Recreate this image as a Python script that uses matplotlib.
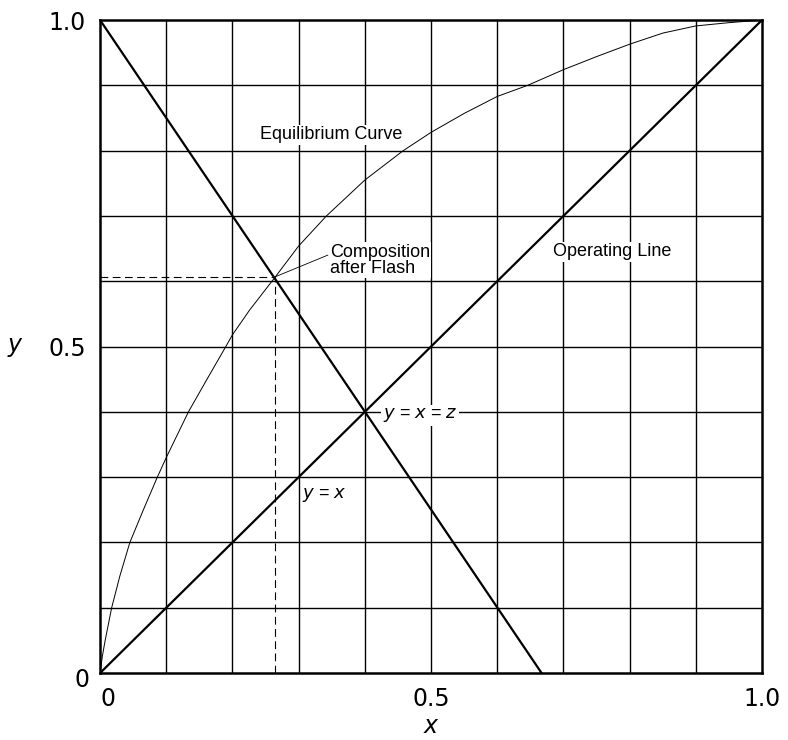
import matplotlib.pyplot as plt
import matplotlib.transforms as mtrans

# Equilibrium curve
eq_x = [0, 0.0035, 0.0075, 0.0175, 0.03, 0.045, 0.065, 0.0865, 0.1, 0.1335,
        0.161, 0.19, 0.2, 0.226, 0.265, 0.3, 0.342, 0.4, 0.458, 0.5, 0.55, 0.6,
        0.646, 0.7, 0.75, 0.8, 0.85, 0.9, 0.95, 1.0]
eq_y = [0, 0.026, 0.049, 0.1, 0.149, 0.2, 0.249, 0.3, 0.33, 0.4,
        0.449, 0.5, 0.518, 0.556, 0.607, 0.654, 0.7, 0.755, 0.8, 0.828, 0.857, 0.883,
        0.9, 0.924, 0.944, 0.963, 0.98, 0.991, 0.996, 1.0]

# Operating line and diagonal
op_x = [0, 0.667]
op_y = [1.0, 0]
diag = [0, 1.0]

# Composition after flash
flash_x = 0.265
flash_y = 0.607

tick_vals = [0, 0.5, 1.0]
tick_labels = ['0', '0.5', '1.0']

plt.rcParams['font.family'] = ['Liberation Sans', 'DejaVu Sans']

fig = plt.figure(figsize=(7.88, 7.40), dpi=100)
ax = fig.add_axes([0.127, 0.0905, 0.840, 0.8824])

# grid every 0.1
for g in [i / 10 for i in range(1, 10)]:
    ax.axvline(g, color='black', lw=1.0, zorder=1)
    ax.axhline(g, color='black', lw=1.0, zorder=1)

ax.plot(eq_x, eq_y, color='black', lw=0.7, zorder=3)
ax.plot(op_x, op_y, color='black', lw=1.6, zorder=3)
ax.plot(diag, diag, color='black', lw=1.6, zorder=3)
ax.plot([0, flash_x], [flash_y, flash_y], color='black', lw=0.8, ls=(0, (7, 4)), zorder=3)
ax.plot([flash_x, flash_x], [0, flash_y], color='black', lw=0.8, ls=(0, (7, 4)), zorder=3)

box = dict(facecolor='white', edgecolor='none', pad=1.0)
ax.text(0.242, 0.824, 'Equilibrium Curve', fontsize=13,
        va='center', ha='left', bbox=box, zorder=2)
ax.text(0.347, 0.632, 'Composition\nafter Flash', fontsize=13,
        va='center', ha='left', linespacing=0.95, bbox=box, zorder=2)
ax.plot([flash_x, 0.344], [flash_y, 0.64], color='black', lw=0.6, zorder=3)
ax.text(0.684, 0.645, 'Operating Line', fontsize=13,
        va='center', ha='left', bbox=box, zorder=2)
ax.text(0.427, 0.395, '$y$ = $x$ = $z$', fontsize=13, va='center', ha='left',
        bbox=box, zorder=2)
ax.text(0.305, 0.273, '$y$ = $x$', fontsize=13, va='center', ha='left',
        bbox=box, zorder=2)

ax.set_xlim(0, 1)
ax.set_ylim(0, 1)
ax.set_xticks(tick_vals)
ax.set_xticklabels(tick_labels, family='DejaVu Sans')
ax.set_yticks(tick_vals)
ax.set_yticklabels(tick_labels, family='DejaVu Sans')
ax.tick_params(length=0, labelsize=17, pad=10)
for s in ax.spines.values():
    s.set_linewidth(1.8)

# nudge the two zero labels like in the original
lab = ax.get_xticklabels()[0]
lab.set_transform(lab.get_transform() + mtrans.ScaledTranslation(0.08, 0, fig.dpi_scale_trans))
lab = ax.get_yticklabels()[0]
lab.set_transform(lab.get_transform() + mtrans.ScaledTranslation(0.03, -0.04, fig.dpi_scale_trans))

fig.text(0.019, 0.531, '$y$', fontsize=17, va='center', ha='center')
fig.text(0.548, 0.018, '$x$', fontsize=17, va='center', ha='center')

fig.savefig('out.png', dpi=100, facecolor='white')
